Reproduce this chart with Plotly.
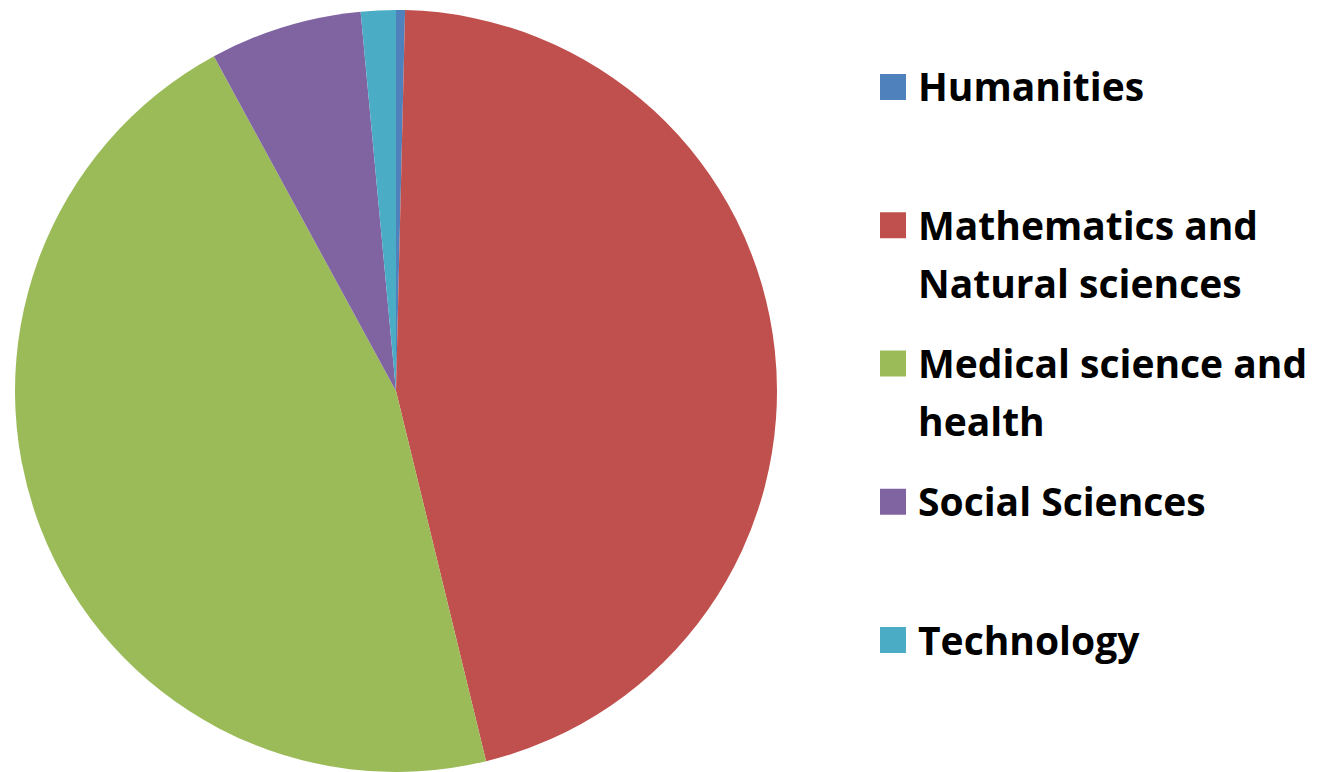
import plotly.graph_objects as go

labels = ["Humanities", "Mathematics and<br>Natural sciences", "Medical science and<br>health",
          "Social Sciences", "Technology"]
values = [0.38, 45.82, 45.87, 6.45, 1.48]
colors = ["#4F81BD", "#C0504D", "#9BBB59", "#8064A2", "#4BACC6"]

W, H = 1322, 772


def px(x):
    return x / W


def py(y):
    return 1 - y / H


# pie: centre (396, 391), radius ~382
cx, cy, r = 396, 391, 381
fig = go.Figure(go.Pie(
    labels=[l.replace("<br>", " ") for l in labels], values=values, sort=False,
    direction="clockwise", rotation=0,
    marker=dict(colors=colors, line=dict(width=0)),
    textinfo="none", showlegend=False,
    domain=dict(x=[px(cx - r), px(cx + r)], y=[max(0, py(cy + r)), min(1, py(cy - r))]),
))

# manual legend
leg_top = 87
leg_step = 138.25
line_gap = 58
font_main = dict(family="Open Sans", size=39, color="#000000", weight="bold")
for i, (lab, col) in enumerate(zip(labels, colors)):
    yc = leg_top + i * leg_step
    fig.add_shape(type="rect", xref="paper", yref="paper",
                  x0=px(880), x1=px(906), y0=py(yc - 13), y1=py(yc + 13),
                  fillcolor=col, line=dict(width=0))
    for j, line in enumerate(lab.split("<br>")):
        fig.add_annotation(text=line, xref="paper", yref="paper",
                           x=px(916), y=py(yc - 1 + j * line_gap),
                           xanchor="left", yanchor="middle", showarrow=False,
                           font=font_main)

fig.update_layout(width=W, height=H, margin=dict(l=0, r=0, t=0, b=0),
                  paper_bgcolor="white", plot_bgcolor="white")
fig.write_html("out.html", config={"displayModeBar": False},
               post_script="document.body.style.margin='0';document.body.style.overflow='hidden';")
